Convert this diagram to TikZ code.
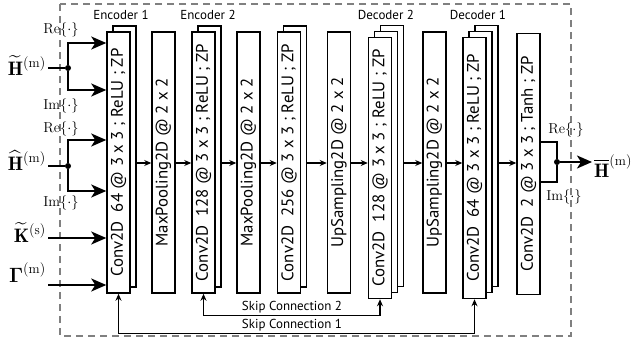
\documentclass[tikz,border=0pt]{standalone}
\usepackage{amsmath}
\usepackage{fontspec}
\setsansfont{PT Sans}
\usetikzlibrary{arrows.meta, positioning}

\begin{document}
\begin{tikzpicture}[x=1pt, y=-1pt,
  layer/.style={draw, line width=1.5pt, fill=white, inner sep=0pt,
    minimum width=23pt, minimum height=261pt},
  blk/.style={rotate=90, inner sep=0pt, font=\sffamily\fontsize{16.8}{16.8}\selectfont},
  tag/.style={font=\sffamily\fontsize{13}{13}\selectfont},
  flow/.style={-{Stealth[length=7pt, width=6pt]}, line width=1.3pt},
  feed/.style={-{Stealth[length=15pt, width=13pt, inset=4pt]}, line width=1.8pt},
  wire/.style={line width=1.8pt},
  dot/.style={circle, fill, inner sep=0pt, minimum size=6pt},
  sym/.style={inner sep=2pt, font=\fontsize{19.5}{19.5}\selectfont},
  cplx/.style={inner sep=1pt, font=\fontsize{14.4}{14.4}\selectfont},
]
  \useasboundingbox (0,0) rectangle (640,340);
  \draw[black!50, dash pattern=on 7pt off 5pt, line width=1.3pt] (60,4) rectangle (571,336);

  % encoder side
  \node[layer] (enc1b) at (124.5,156.5) {};
  \node[layer, label={[blk]center:Conv2D~~64 @ 3 x 3 ; ReLU ; ZP}] (enc1) at (118.5,162.5) {};
  \node[layer, label={[blk]center:MaxPooling2D @ 2 x 2}] (pool1) at (163.5,162.5) {};
  \node[layer] (enc2b) at (209.5,156.5) {};
  \node[layer, label={[blk]center:Conv2D~~128 @ 3 x 3 ; ReLU ; ZP}] (enc2) at (203.5,162.5) {};
  \node[layer, label={[blk]center:MaxPooling2D @ 2 x 2}] (pool2) at (248.5,162.5) {};
  \node[layer] (bottb) at (295,156.5) {};
  \node[layer, label={[blk]center:Conv2D~~256 @ 3 x 3 ; ReLU ; ZP}] (bott) at (289,162.5) {};

  % decoder side
  \node[layer, label={[blk]center:UpSampling2D @ 2 x 2}] (up1) at (339,162.5) {};
  \node[layer] (dec2c) at (392,156) {};
  \node[layer] (dec2b) at (386,162) {};
  \node[layer, label={[blk]center:Conv2D~~128 @ 3 x 3 ; ReLU ; ZP}] (dec2) at (380,168) {};
  \node[layer, label={[blk]center:UpSampling2D @ 2 x 2}] (up2) at (434.5,162.5) {};
  \node[layer] (dec1c) at (486.5,156) {};
  \node[layer] (dec1b) at (480.5,162) {};
  \node[layer, label={[blk]center:Conv2D~~64 @ 3 x 3 ; ReLU ; ZP}] (dec1) at (474.5,168) {};
  \node[layer, label={[blk]center:Conv2D~~2 @ 3 x 3 ; Tanh ; ZP}] (out) at (528.5,164) {};

  \node[tag] (enc1t) at (121,15) {Encoder 1};
  \node[tag] (enc2t) at (208,15) {Encoder 2};
  \node[tag] (dec2t) at (386,15) {Decoder 2};
  \node[tag] (dec1t) at (478,15) {Decoder 1};

  \coordinate (mid) at (0,163);
  \foreach \a/\b in {enc1b/pool1, pool1/enc2, enc2b/pool2, pool2/bott, bottb/up1,
                     up1/dec2, dec2c/up2, up2/dec1, dec1c/out}
    \draw[flow] (\a.east |- mid) -- (\b.west |- mid);

  % skip connections
  \draw[flow, {Stealth[length=7pt, width=6pt]}-{Stealth[length=7pt, width=6pt]}]
    (enc2.south) -- ++(0,22) -| (dec2.south);
  \draw[flow, {Stealth[length=7pt, width=6pt]}-{Stealth[length=7pt, width=6pt]}]
    (enc1.south) -- ++(0,40) -| (dec1.south);
  \node[tag] (skip2) at (292,307) {Skip Connection 2};
  \node[tag] (skip1) at (292,325) {Skip Connection 1};

  % inputs
  \node[sym, anchor=base east] (htl) at (48,75) {$\widetilde{\mathbf{H}}^{(\mathrm{m})}$};
  \node[dot] (htd) at (68,68) {};
  \draw[wire] (htl.east |- htd) -- (htd);
  \draw[feed] (htd) |- ([yshift=25pt]htd -| enc1.west);
  \draw[feed] (htd) |- ([yshift=-22pt]htd -| enc1.west);
  \node[cplx] (re1) at (61,30) {$\mathrm{Re}\{\cdot\}$};
  \node[cplx] (im1) at (61,106) {$\mathrm{Im}\{\cdot\}$};

  \node[sym, anchor=base east] (hhl) at (48,170) {$\widehat{\mathbf{H}}^{(\mathrm{m})}$};
  \node[dot] (hhd) at (68,166) {};
  \draw[wire] (hhl.east |- hhd) -- (hhd);
  \draw[feed] (hhd) |- ([yshift=26pt]hhd -| enc1.west);
  \draw[feed] (hhd) |- ([yshift=-25pt]hhd -| enc1.west);
  \node[cplx] (re2) at (61,129) {$\mathrm{Re}\{\cdot\}$};
  \node[cplx] (im2) at (61,203) {$\mathrm{Im}\{\cdot\}$};

  \node[sym, anchor=base east] (kl) at (48,242) {$\widetilde{\mathbf{K}}^{(\mathrm{s})}$};
  \draw[feed] ([yshift=4pt]kl.base east) -- ([yshift=4pt]kl.base east -| enc1.west);
  \node[sym, anchor=base east] (gl) at (48,282) {$\boldsymbol{\Gamma}^{(\mathrm{m})}$};
  \draw[feed] ([yshift=-3pt]gl.base east) -- ([yshift=-3pt]gl.base east -| enc1.west);

  % output
  \node[dot] (od) at (557,162) {};
  \draw[wire] ([yshift=22pt]out.east) -| (od) |- ([yshift=-18pt]out.east);
  \node[sym, anchor=base west] (hbl) at (592,177) {$\overline{\mathbf{H}}^{(\mathrm{m})}$};
  \draw[feed] (od) -- (od -| hbl.west);
  \node[cplx] (re3) at (566,130) {$\mathrm{Re}\{\cdot\}$};
  \node[cplx] (im3) at (564,197) {$\mathrm{Im}\{\cdot\}$};
\end{tikzpicture}
\end{document}
